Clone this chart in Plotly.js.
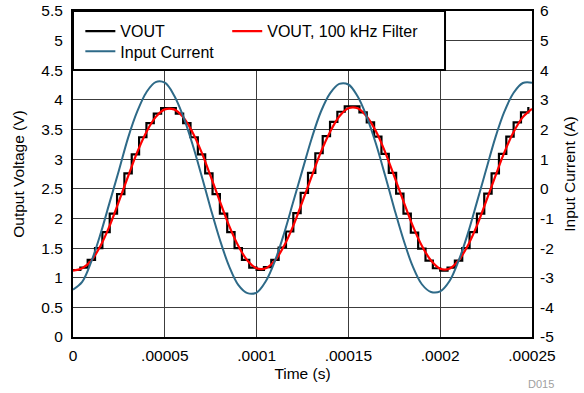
<!DOCTYPE html>
<html>
<head>
<meta charset="utf-8">
<script src="https://cdn.plot.ly/plotly-3.0.1.min.js"></script>
<style>
  html, body { margin: 0; padding: 0; background: #fff; }
  #chart { width: 584px; height: 393px; }
</style>
</head>
<body>
<div id="chart"></div>
<script>
// ---- Data ----
// VOUT (sample-and-hold staircase), one value per 4 µs step starting at t = 0
const voutStepSeconds = 0.000004;
const voutValues = [
  1.13, 1.17, 1.30, 1.50, 1.77, 2.08, 2.41, 2.76, 3.08, 3.37, 3.61, 3.77, 3.86,
  3.86, 3.77, 3.61, 3.37, 3.08, 2.76, 2.41, 2.08, 1.77, 1.50, 1.30, 1.17,
  1.13, 1.18, 1.30, 1.51, 1.78, 2.09, 2.43, 2.77, 3.10, 3.39, 3.63, 3.80, 3.89,
  3.89, 3.79, 3.62, 3.38, 3.09, 2.77, 2.42, 2.08, 1.76, 1.49, 1.29, 1.16,
  1.12, 1.17, 1.29, 1.50, 1.77, 2.08, 2.42, 2.76, 3.09, 3.38, 3.62, 3.79, 3.88
];
// VOUT, 100 kHz filter, one value every 5 µs starting at t = 0
const sampleSeconds = 0.000005;
const voutFilteredValues = [
  1.12, 1.16, 1.29, 1.54, 1.88, 2.29, 2.71, 3.12, 3.46, 3.71, 3.84,
  3.84, 3.71, 3.46, 3.12, 2.71, 2.29, 1.88, 1.54, 1.29, 1.16,
  1.16, 1.29, 1.54, 1.88, 2.29, 2.71, 3.12, 3.46, 3.72, 3.86,
  3.86, 3.72, 3.47, 3.12, 2.71, 2.29, 1.88, 1.54, 1.29, 1.15,
  1.15, 1.29, 1.54, 1.88, 2.29, 2.71, 3.12, 3.46, 3.71, 3.85
];
// Input current (A), one value every 5 µs starting at t = 0
const inputCurrentValues = [
  -3.40, -3.14, -2.45, -1.52, -0.45, 0.62, 1.72, 2.61, 3.26, 3.60, 3.58,
  3.16, 2.45, 1.52, 0.45, -0.67, -1.72, -2.61, -3.24, -3.52, -3.50,
  -3.12, -2.43, -1.50, -0.43, 0.64, 1.70, 2.60, 3.22, 3.54, 3.52,
  3.12, 2.43, 1.52, 0.45, -0.67, -1.72, -2.61, -3.22, -3.48, -3.46,
  -3.12, -2.43, -1.52, -0.45, 0.64, 1.72, 2.61, 3.24, 3.57, 3.58
];
const xTickValues = [0, 0.00005, 0.0001, 0.00015, 0.0002, 0.00025];
const xTickLabels = ['0', '.00005', '.0001', '.00015', '.0002', '.00025'];
const currentTickValues = [-5, -4, -3, -2, -1, 0, 1, 2, 3, 4, 5, 6];
const currentTickLabels = ['-5', '-4', '-3', '-2', '-1', '0', '1', '2', '3', '4', '5', '6'];
const seriesNames = ['VOUT', 'VOUT, 100 kHz Filter', 'Input Current'];

// ---- Build traces ----
const voutX = voutValues.map((_, i) => i * voutStepSeconds);
const sampleX = voutFilteredValues.map((_, i) => i * sampleSeconds);
const currentX = inputCurrentValues.map((_, i) => i * sampleSeconds);

const font = 'Liberation Sans, Arial, Helvetica, sans-serif';
const tickSize = 15.5;
const legendSize = 16;

const traces = [
  { x: voutX, y: voutValues, name: seriesNames[0], type: 'scatter', mode: 'lines',
    line: { color: '#000000', width: 2.2, shape: 'hv' }, legend: 'legend', xaxis: 'x', yaxis: 'y' },
  { x: sampleX, y: voutFilteredValues, name: seriesNames[1], type: 'scatter', mode: 'lines',
    line: { color: '#ff0000', width: 2.2, shape: 'spline', smoothing: 1 }, legend: 'legend3', xaxis: 'x', yaxis: 'y' },
  { x: currentX, y: inputCurrentValues, name: seriesNames[2], type: 'scatter', mode: 'lines',
    line: { color: '#2e6a88', width: 2, shape: 'spline', smoothing: 1 }, legend: 'legend2', xaxis: 'x', yaxis: 'y2' }
];

const legendBase = {
  orientation: 'h', xanchor: 'left', yanchor: 'top',
  bgcolor: 'rgba(0,0,0,0)', borderwidth: 0,
  font: { size: legendSize }, itemclick: false
};

const layout = {
  width: 584, height: 393,
  margin: { l: 73, r: 52, t: 11, b: 56, pad: 0 },
  paper_bgcolor: '#ffffff', plot_bgcolor: '#ffffff',
  font: { family: font, size: tickSize, color: '#000000' },
  showlegend: true,
  xaxis: {
    range: [0, 0.00025], tickvals: xTickValues, ticktext: xTickLabels,
    showgrid: true, gridcolor: '#3c3c3c', gridwidth: 1,
    showline: true, linecolor: '#000000', linewidth: 2, mirror: true,
    ticks: '', zeroline: false, tickfont: { size: tickSize }, ticklabelstandoff: 3,
    title: { text: 'Time (s)', font: { size: tickSize }, standoff: 6 }
  },
  yaxis: {
    range: [0, 5.5], dtick: 0.5, tick0: 0,
    showgrid: true, gridcolor: '#3c3c3c', gridwidth: 1,
    showline: true, linecolor: '#000000', linewidth: 2, mirror: true,
    ticks: '', zeroline: false, tickfont: { size: tickSize }, ticklabelstandoff: 5,
    title: { text: 'Output Voltage (V)', font: { size: tickSize }, standoff: 13 }
  },
  yaxis2: {
    range: [-5, 6], tickvals: currentTickValues, ticktext: currentTickLabels,
    overlaying: 'y', side: 'right',
    showgrid: false, showline: false, ticks: '', zeroline: false,
    tickfont: { size: tickSize }, ticklabelstandoff: 7,
    title: { text: 'Input Current (A)', font: { size: tickSize }, standoff: 10 }
  },
  legend: Object.assign({}, legendBase, { x: 0.016, y: 0.99 }),
  legend3: Object.assign({}, legendBase, { x: 0.336, y: 0.99 }),
  legend2: Object.assign({}, legendBase, { x: 0.016, y: 0.928 }),
  shapes: [
    { type: 'rect', xref: 'paper', yref: 'paper', x0: 0, x1: 0.8105, y0: 0.819, y1: 1,
      fillcolor: '#ffffff', line: { color: '#000000', width: 2 }, layer: 'above' }
  ],
  annotations: [
    { text: 'D015', xref: 'paper', yref: 'paper', x: 1.052, xanchor: 'right', y: -0.12, yanchor: 'top',
      showarrow: false, font: { size: 11, color: '#a0a0a0' } }
  ]
};

Plotly.newPlot('chart', traces, layout, { staticPlot: true, displayModeBar: false });
</script>
</body>
</html>
